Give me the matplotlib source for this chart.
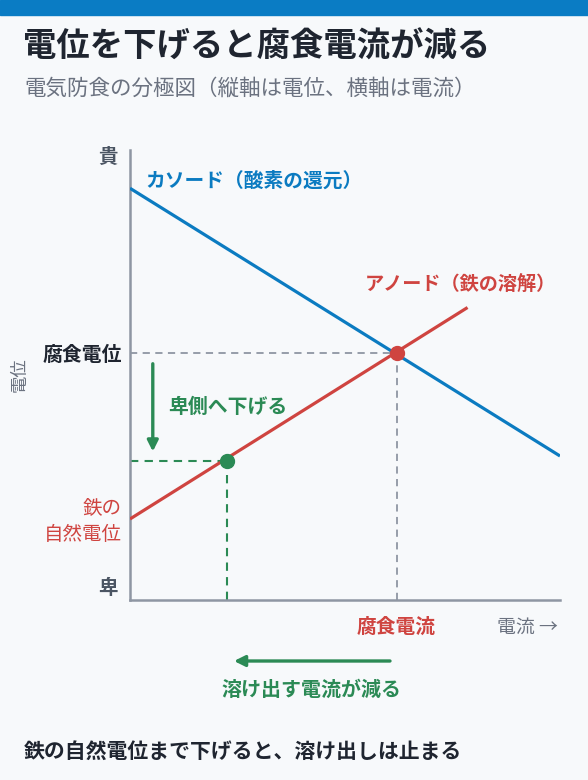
"""Polarization diagram for cathodic protection (電気防食の分極図)."""

import matplotlib
matplotlib.use('Agg')
import matplotlib.pyplot as plt
from matplotlib.patches import Rectangle

plt.rcParams['font.family'] = ['Noto Sans CJK JP', 'DejaVu Sans']

# Data (arbitrary units: x = current, y = potential)
cathode_x = [0.0, 10.0]
cathode_y = [9.15, 3.2]
anode_x = [0.0, 7.85]
anode_y = [1.8, 6.5]
corrosion_point = (6.2, 5.5)     # 腐食電位 / 腐食電流
protected_point = (2.25, 3.1)    # 下げた後の電位
natural_potential = 1.8          # 鉄の自然電位

BG = '#f7f9fb'
BLUE = '#0b7bc1'
RED = '#cf4440'
GREEN = '#2b8a55'
GRAY = '#8e96a3'
DARK = '#1f2530'
SUB = '#6b7280'

W, H = 588, 780
fig = plt.figure(figsize=(W / 100, H / 100), dpi=100, facecolor=BG)


def fy(py):
    return 1 - py / H


def fx(px):
    return px / W


# top bar
fig.patches.append(Rectangle((0, fy(15)), 1, 15 / H, transform=fig.transFigure,
                             color='#0a7cc4', zorder=0))

fig.text(fx(23), fy(47), '電位を下げると腐食電流が減る', fontsize=24, fontweight='bold',
         color=DARK, va='center', ha='left')
fig.text(fx(24), fy(89), '電気防食の分極図（縦軸は電位、横軸は電流）', fontsize=15.5,
         color=SUB, va='center', ha='left')

# axes region in pixels: x 130..560, y 150..600
ax = fig.add_axes([fx(130), fy(600), (560 - 130) / W, (600 - 150) / H])
ax.set_facecolor(BG)
ax.set_xlim(0, 10)
ax.set_ylim(0, 10)
for s in ['top', 'right']:
    ax.spines[s].set_visible(False)
for s in ['left', 'bottom']:
    ax.spines[s].set_color(GRAY)
    ax.spines[s].set_linewidth(1.8)
ax.set_xticks([])
ax.set_yticks([])

cx, cy = corrosion_point
px_, py_ = protected_point

# guide lines
ax.plot([0, cx], [cy, cy], color=GRAY, lw=1.3, ls=(0, (4, 3)), zorder=2)
ax.plot([cx, cx], [0, cy], color=GRAY, lw=1.3, ls=(0, (4, 3)), zorder=2)
ax.plot([0, px_], [py_, py_], color=GREEN, lw=1.5, ls=(0, (4, 3)), zorder=2)
ax.plot([px_, px_], [0, py_], color=GREEN, lw=1.5, ls=(0, (4, 3)), zorder=2)

# curves
ax.plot(cathode_x, cathode_y, color=BLUE, lw=2.3, solid_capstyle='butt', zorder=3)
ax.plot(anode_x, anode_y, color=RED, lw=2.3, solid_capstyle='butt', zorder=3)

ax.plot(cx, cy, 'o', color=RED, markersize=10, zorder=4)
ax.plot(px_, py_, 'o', color=GREEN, markersize=10, zorder=4)

# downward arrow
ax.annotate('', xy=(0.53, 3.3), xytext=(0.53, 5.25),
            arrowprops=dict(arrowstyle='-|>', color=GREEN, lw=2.4,
                            mutation_scale=16, shrinkA=0, shrinkB=0))
ax.text(0.88, 4.3, '卑側へ下げる', fontsize=14.3, fontweight='bold', color=GREEN,
        va='center', ha='left')

ax.text(0.35, 9.3, 'カソード（酸素の還元）', fontsize=14.2, fontweight='bold', color=BLUE,
        va='center', ha='left')
ax.text(5.45, 7.0, 'アノード（鉄の溶解）', fontsize=13.8, fontweight='bold', color=RED,
        va='center', ha='left')

# y-axis labels
fig.text(fx(118), fy(157), '貴', fontsize=14, fontweight='bold', color='#4b5563',
         ha='right', va='center')
fig.text(fx(122), fy(354), '腐食電位', fontsize=14.3, fontweight='bold', color=DARK,
         ha='right', va='center')
fig.text(fx(122), fy(509), '鉄の', fontsize=14, color=RED, ha='right', va='center')
fig.text(fx(122), fy(535), '自然電位', fontsize=14, color=RED, ha='right', va='center')
fig.text(fx(118), fy(588), '卑', fontsize=14, fontweight='bold', color='#4b5563',
         ha='right', va='center')
fig.text(fx(20), fy(375), '電位', fontsize=12.5, color=SUB, rotation=90,
         ha='center', va='center')

# x-axis labels
fig.text(fx(396), fy(627), '腐食電流', fontsize=14.2, fontweight='bold', color=RED,
         ha='center', va='center')
fig.text(fx(558), fy(627), '電流 →', fontsize=13.6, color=SUB, ha='right', va='center')

ax.annotate('', xy=(234, H - 661), xytext=(390, H - 661),
            xycoords='figure pixels', textcoords='figure pixels',
            arrowprops=dict(arrowstyle='-|>', color=GREEN, lw=2.4,
                            mutation_scale=16, shrinkA=0, shrinkB=0))
fig.text(fx(311), fy(689), '溶け出す電流が減る', fontsize=14.4, fontweight='bold',
         color=GREEN, ha='center', va='center')

fig.text(fx(24), fy(751), '鉄の自然電位まで下げると、溶け出しは止まる', fontsize=15,
         fontweight='bold', color=DARK, ha='left', va='center')

fig.savefig('out.png', dpi=100, facecolor=BG)
plt.close(fig)
